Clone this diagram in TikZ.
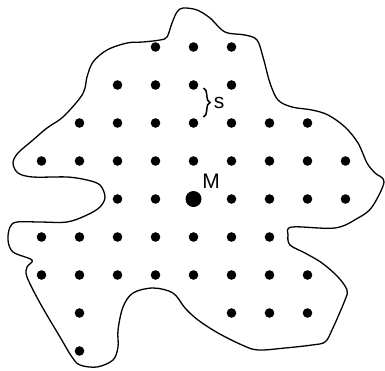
\documentclass[tikz,border=0pt]{standalone}
\usepackage{fontspec}
\setmainfont{Liberation Sans}
\usetikzlibrary{decorations.pathreplacing}
\begin{document}
\begin{tikzpicture}[x=1pt,y=-1pt,
  dot/.style={circle,fill=black,inner sep=0pt,minimum size=9.6pt},
  bigdot/.style={circle,fill=black,inner sep=0pt,minimum size=16pt},
  lbl/.style={font=\fontsize{21}{21}\selectfont,inner sep=0pt},
  outline/.style={line width=1.3pt,line join=round}]
\useasboundingbox (0,0) rectangle (385,370);
\draw[outline] plot[smooth cycle, tension=0.55] coordinates {
(183,8) (197,10) (210,18) (225,32) (245,35) (257,40) (263,57) (270,83) (278,100)
(292,107) (312,110) (328,115) (345,127) (358,143) (367,163) (375,173) (384,182)
(372,207) (358,218) (335,228) (292,227) (288,235) (290,245) (305,253) (322,263)
(338,277) (347,290) (345,300) (332,330) (325,342) (312,345) (285,348) (258,350)
(242,345) (218,333) (198,320) (185,308) (173,293) (153,288) (133,293) (123,307)
(118,330) (118,347) (113,360) (97,367) (80,365) (72,357) (60,337) (40,303)
(27,277) (27,267) (32,260) (13,252) (8,240) (10,227) (17,222) (40,222) (67,222)
(87,215) (100,207) (105,197) (100,185) (87,180) (67,177) (33,177) (18,173)
(13,163) (18,153) (33,140) (47,128) (63,117) (80,98) (85,88) (87,77) (93,62)
(107,50) (127,43) (143,42) (160,40) (167,37) (172,23) (177,12)};
\foreach \r/\cols in {0/{3,4,5},1/{2,3,4,5},2/{1,...,7},3/{0,...,8},4/{2,3,5,6,7,8},5/{0,...,6},6/{0,...,7},7/{1,5,6,7},8/{1}}
  \foreach \c in \cols
    \node[dot] (d-\r-\c) at ({41.5+38*\c},{47+38*\r}) {};
\node[bigdot] (M) at (193.5,199) {};
\node[lbl] (Mlabel) at (211,181) {M};
\coordinate (bt) at (203.5,88);
\coordinate (bb) at (203.5,117);
\draw[decorate,decoration={brace,amplitude=6.5pt},line width=1.5pt] (bt) -- (bb);
\node[lbl] (slabel) at (219,103) {s};
\end{tikzpicture}
\end{document}
